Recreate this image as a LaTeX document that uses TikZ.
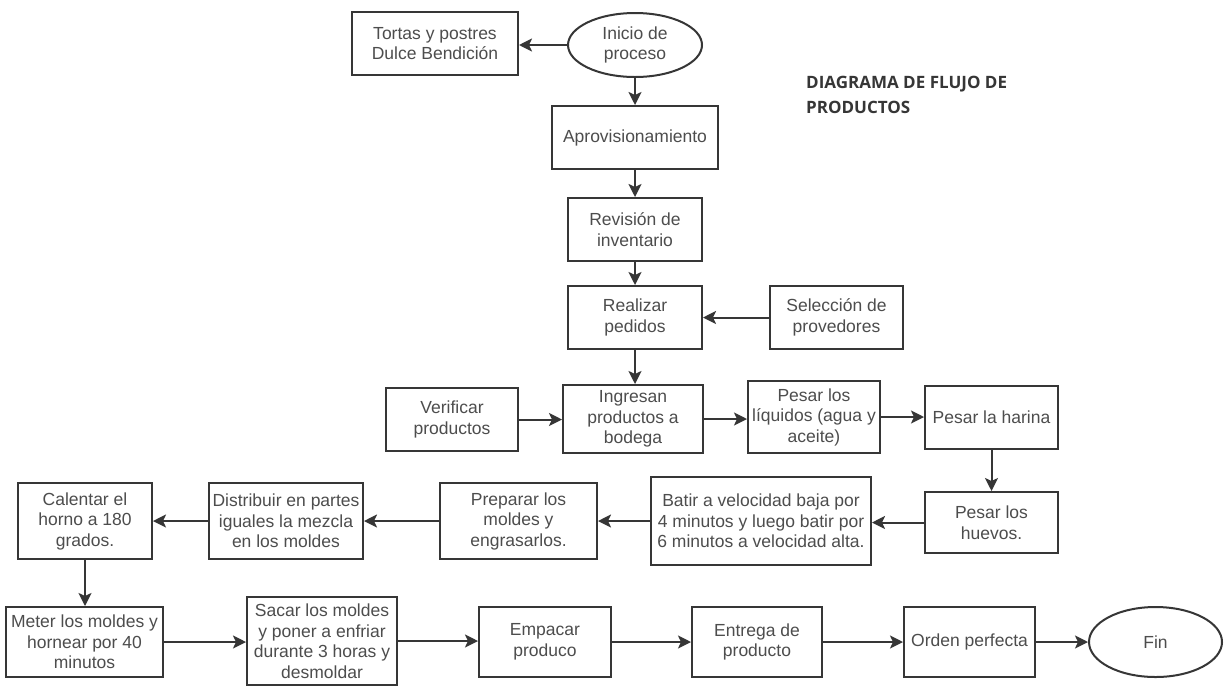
\documentclass[tikz,border=0pt]{standalone}
\usepackage{fontspec}
\setmainfont{Liberation Sans}
\newfontfamily\boxfont{Liberation Sans}
\newfontfamily\titlefont{Open Sans}
\usetikzlibrary{arrows.meta,shapes.geometric}
\definecolor{linecol}{HTML}{363636}
\definecolor{textcol}{HTML}{4D4D4D}

\begin{document}
\begin{tikzpicture}[x=1pt,y=-1pt,
  box/.style={draw=linecol, line width=2pt, rectangle, inner sep=0pt,
    align=center, text=textcol, font=\boxfont\fontsize{17.5}{20.5}\selectfont},
  oval/.style={box, ellipse},
  flow/.style={draw=linecol, line width=2pt,
    -{Stealth[length=13pt,width=13pt,inset=3pt]}},
  title/.style={anchor=north west, inner sep=0pt, align=left, text=linecol,
    font=\titlefont\bfseries\fontsize{17}{25}\selectfont}]

% canvas
\fill[white] (0,0) rectangle (1225,686);
\useasboundingbox (0,0) rectangle (1225,686);

% heading
\node[title] (heading) at (806,76) {DIAGRAMA DE FLUJO DE\\PRODUCTOS};

% supply stage
\node[box, minimum width=166pt, minimum height=63pt] (tortas) at (435,43.5) {Tortas y postres\\Dulce Bendición};
\node[oval, minimum width=134pt, minimum height=64pt] (inicio) at (635,45) {Inicio de\\proceso};
\node[box, minimum width=166pt, minimum height=63pt] (aprov) at (635,137.5) {Aprovisionamiento};
\node[box, minimum width=134pt, minimum height=63pt] (revision) at (635,229.5) {Revisión de\\inventario};
\node[box, minimum width=134pt, minimum height=63pt] (pedidos) at (635,317.5) {Realizar\\pedidos};
\node[box, minimum width=133pt, minimum height=63pt] (proveedores) at (836.5,317.5) {Selección de\\provedores};

% reception and weighing
\node[box, minimum width=132pt, minimum height=63pt] (verificar) at (452,419.5) {Verificar\\productos};
\node[box, minimum width=140pt, minimum height=68pt] (ingresan) at (633,419) {Ingresan\\productos a\\bodega};
\node[box, minimum width=132pt, minimum height=72pt] (liquidos) at (814,417) {Pesar los\\líquidos (agua y\\aceite)};
\node[box, minimum width=133pt, minimum height=63pt] (harina) at (991.5,417.5) {Pesar la harina};
\node[box, minimum width=133pt, minimum height=61pt] (huevos) at (991.5,522.5) {Pesar los\\huevos.};

% mixing and moulds
\node[box, minimum width=220pt, minimum height=88pt] (batir) at (761,521) {Batir a velocidad baja por\\4 minutos y luego batir por\\6 minutos a velocidad alta.};
\node[box, minimum width=157pt, minimum height=76pt] (preparar) at (518.5,521) {Preparar los\\moldes y\\engrasarlos.};
\node[box, minimum width=154pt, minimum height=76pt] (distribuir) at (286,521) {Distribuir en partes\\iguales la mezcla\\en los moldes};
\node[box, minimum width=134pt, minimum height=76pt] (calentar) at (85,521) {Calentar el\\horno a 180\\grados.};

% baking and delivery
\node[box, minimum width=157pt, minimum height=70pt] (meter) at (84.5,642) {Meter los moldes y\\hornear por 40\\minutos};
\node[box, minimum width=150pt, minimum height=88pt] (sacar) at (322,641) {Sacar los moldes\\y poner a enfriar\\durante 3 horas y\\desmoldar};
\node[box, minimum width=132pt, minimum height=70pt] (empacar) at (545,642) {Empacar\\produco};
\node[box, minimum width=130pt, minimum height=70pt] (entrega) at (757,642) {Entrega de\\producto};
\node[box, minimum width=131pt, minimum height=70pt] (orden) at (969.5,642) {Orden perfecta};
\node[oval, minimum width=133pt, minimum height=70pt] (fin) at (1155.5,642) {Fin};

% connectors
\draw[flow] (inicio.west) -- (inicio.west -| tortas.east);
\draw[flow] (inicio.south) -- (inicio.south |- aprov.north);
\draw[flow] (aprov.south) -- (aprov.south |- revision.north);
\draw[flow] (revision.south) -- (revision.south |- pedidos.north);
\draw[flow] (proveedores.west) -- (proveedores.west -| pedidos.east);
\draw[flow] (pedidos.south) -- (pedidos.south |- ingresan.north);
\draw[flow] (verificar.east) -- (verificar.east -| ingresan.west);
\draw[flow] (ingresan.east) -- (ingresan.east -| liquidos.west);
\draw[flow] (liquidos.east) -- (liquidos.east -| harina.west);
\draw[flow] (harina.south) -- (harina.south |- huevos.north);
\draw[flow] (huevos.west) -- (huevos.west -| batir.east);
\draw[flow] (batir.west) -- (batir.west -| preparar.east);
\draw[flow] (preparar.west) -- (preparar.west -| distribuir.east);
\draw[flow] (distribuir.west) -- (distribuir.west -| calentar.east);
\draw[flow] (calentar.south) -- (calentar.south |- meter.north);
\draw[flow] (meter.east) -- (meter.east -| sacar.west);
\draw[flow] (sacar.east) -- (sacar.east -| empacar.west);
\draw[flow] (empacar.east) -- (empacar.east -| entrega.west);
\draw[flow] (entrega.east) -- (entrega.east -| orden.west);
\draw[flow] (orden.east) -- (orden.east -| fin.west);
\end{tikzpicture}
\end{document}
